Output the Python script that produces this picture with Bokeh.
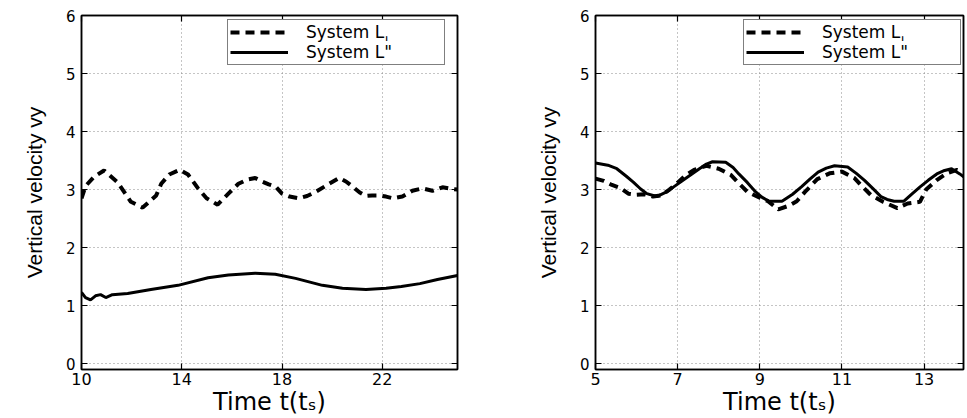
from bokeh.plotting import figure
from bokeh.layouts import row
from bokeh.models import (LinearAxis, FixedTicker, Range1d, Legend, LegendItem,
                          CustomLabelingPolicy)
from bokeh.embed import file_html
from bokeh.resources import INLINE

# ---------------- data ----------------
y_ticks = [0, 1, 2, 3, 4, 5, 6]
left_x_ticks = [10, 14, 18, 22]
right_x_ticks = [5, 7, 9, 11, 13]

legend_labels = ["System L\u02cc", "System L\""]
x_label = "Time t(t\u209b)"
y_label = "Vertical velocity vy"

# left panel, dashed curve (System L,)
left_dashed_t = [10.0, 10.16, 10.5, 10.9, 11.43, 11.97, 12.44, 12.98, 13.18, 13.5, 13.92,
                 14.25, 14.65, 14.99, 15.43, 15.86, 16.26, 16.6, 16.93, 17.2, 17.47, 17.75,
                 18.0, 18.3, 18.67, 19.0, 19.34, 19.88, 20.28, 20.55, 20.82, 21.1, 21.35,
                 21.6, 21.89, 22.15, 22.42, 22.8, 23.2, 23.6, 24.0, 24.4, 24.8, 25.0]
left_dashed_v = [2.85, 3.06, 3.22, 3.33, 3.13, 2.79, 2.69, 2.90, 3.10, 3.26, 3.34,
                 3.26, 3.02, 2.85, 2.74, 2.93, 3.10, 3.17, 3.20, 3.14, 3.09, 3.05,
                 2.93, 2.88, 2.85, 2.89, 2.96, 3.10, 3.20, 3.14, 3.05, 2.95, 2.89,
                 2.90, 2.90, 2.88, 2.85, 2.88, 2.98, 3.02, 2.98, 3.04, 3.01, 3.00]

# left panel, solid curve (System L")
left_solid_t = [10.0, 10.16, 10.36, 10.56, 10.76, 10.97, 11.23, 11.84, 12.77, 13.85, 15.05,
                15.86, 16.93, 17.73, 18.54, 19.61, 20.41, 21.35, 22.15, 22.76, 23.5, 24.2, 25.0]
left_solid_v = [1.23, 1.14, 1.10, 1.17, 1.19, 1.14, 1.19, 1.21, 1.28, 1.35, 1.48,
                1.53, 1.56, 1.54, 1.47, 1.35, 1.30, 1.28, 1.30, 1.33, 1.38, 1.45, 1.52]

# right panel, dashed curve (System L,)
right_dashed_t = [5.0, 5.2, 5.4, 5.6, 5.8, 6.0, 6.2, 6.4, 6.6, 6.8, 7.0, 7.2, 7.4, 7.7,
                  8.0, 8.3, 8.5, 8.7, 9.0, 9.2, 9.45, 9.7, 9.9, 10.1, 10.4, 10.7, 11.0,
                  11.3, 11.5, 11.7, 12.0, 12.35, 12.6, 12.9, 13.05, 13.3, 13.55, 13.8, 14.0]
right_dashed_v = [3.19, 3.15, 3.08, 3.03, 2.93, 2.91, 2.92, 2.88, 2.90, 3.00, 3.12, 3.25, 3.34, 3.41,
                  3.36, 3.25, 3.10, 2.96, 2.86, 2.80, 2.66, 2.72, 2.80, 2.96, 3.18, 3.28, 3.31,
                  3.20, 3.05, 2.91, 2.79, 2.68, 2.76, 2.79, 3.00, 3.16, 3.28, 3.34, 3.30]

# right panel, solid curve (System L")
right_solid_t = [5.0, 5.3, 5.52, 5.75, 5.92, 6.1, 6.25, 6.49, 6.73, 6.93, 7.13, 7.33, 7.53,
                 7.7, 7.85, 8.17, 8.35, 8.49, 8.7, 8.9, 9.05, 9.22, 9.54, 9.8, 10.02, 10.22,
                 10.42, 10.62, 10.82, 11.14, 11.35, 11.55, 11.75, 11.95, 12.1, 12.27, 12.51,
                 12.7, 12.91, 13.1, 13.31, 13.5, 13.67, 13.87, 14.0]
right_solid_v = [3.46, 3.42, 3.36, 3.23, 3.13, 3.01, 2.93, 2.88, 2.96, 3.06, 3.16, 3.26, 3.36,
                 3.44, 3.48, 3.47, 3.38, 3.27, 3.12, 2.96, 2.87, 2.80, 2.80, 2.92, 3.05, 3.18,
                 3.30, 3.37, 3.41, 3.39, 3.28, 3.16, 3.02, 2.88, 2.83, 2.80, 2.80,
                 2.92, 3.05, 3.16, 3.27, 3.33, 3.36, 3.27, 3.20]

H_FONT = "DejaVu Sans"
V_FONT = "Liberation Sans"

NO_LABELS = CustomLabelingPolicy(code="for (const i of Array.from(indices)) { indices.unset(i) } return indices")


def style_axis(ax, ticks, show_labels=True):
    ax.ticker = FixedTicker(ticks=ticks)
    ax.axis_line_color = "black"
    ax.axis_line_width = 1.5
    ax.major_tick_line_color = "black"
    ax.major_tick_line_width = 1.2
    ax.major_tick_in = 6
    ax.major_tick_out = 0
    ax.minor_tick_line_color = None
    ax.major_label_text_font = H_FONT
    ax.major_label_text_color = "black"
    ax.axis_label_text_color = "black"
    if not show_labels:
        ax.major_label_text_font_size = "1px"
        ax.major_label_standoff = 0
        ax.major_label_policy = NO_LABELS


def make_panel(width, mb_left, mb_right, xr, xticks, dt, dv, st, sv, leg_loc):
    p = figure(width=width, height=418, output_backend="svg", toolbar_location=None,
               x_range=Range1d(*xr), y_range=Range1d(-0.1, 6.0),
               min_border_left=mb_left, min_border_right=mb_right,
               min_border_top=15, min_border_bottom=45)
    p.background_fill_color = "white"
    p.border_fill_color = "white"
    p.outline_line_color = "black"
    p.outline_line_width = 1.5

    style_axis(p.xaxis[0], xticks)
    style_axis(p.yaxis[0], y_ticks)
    p.xaxis[0].major_label_text_font_size = "16px"
    p.xaxis[0].major_label_standoff = 3
    p.yaxis[0].major_label_text_font_size = "15px"
    p.yaxis[0].major_label_standoff = 6
    p.yaxis[0].major_label_orientation = "horizontal"

    p.xaxis[0].axis_label = x_label
    p.xaxis[0].axis_label_text_font = H_FONT
    p.xaxis[0].axis_label_text_font_size = "24px"
    p.xaxis[0].axis_label_text_font_style = "normal"
    p.xaxis[0].axis_label_standoff = 0
    p.yaxis[0].axis_label = y_label
    p.yaxis[0].axis_label_text_font = V_FONT
    p.yaxis[0].axis_label_text_font_size = "21px"
    p.yaxis[0].axis_label_text_font_style = "normal"
    p.yaxis[0].axis_label_standoff = 17

    top = LinearAxis()
    style_axis(top, xticks, show_labels=False)
    p.add_layout(top, "above")
    right = LinearAxis()
    style_axis(right, y_ticks, show_labels=False)
    p.add_layout(right, "right")

    for g in (p.xgrid[0], p.ygrid[0]):
        g.grid_line_color = "#8a8a8a"
        g.grid_line_dash = "1 3"
        g.grid_line_width = 1
    p.xgrid[0].ticker = FixedTicker(ticks=xticks)
    p.ygrid[0].ticker = FixedTicker(ticks=y_ticks)

    r1 = p.line(dt, dv, line_color="black", line_width=4, line_dash="9 6")
    r2 = p.line(st, sv, line_color="black", line_width=3)

    leg = Legend(items=[LegendItem(label=legend_labels[0], renderers=[r1]),
                        LegendItem(label=legend_labels[1], renderers=[r2])],
                 location=leg_loc)
    leg.border_line_color = "black"
    leg.border_line_width = 1.5
    leg.background_fill_color = "white"
    leg.background_fill_alpha = 1
    leg.padding = 2
    leg.spacing = 0
    leg.margin = 0
    leg.glyph_width = 58
    leg.glyph_height = 18
    leg.label_standoff = 18
    leg.label_width = 136
    leg.label_height = 18
    leg.label_text_font = H_FONT
    leg.label_text_font_size = "17px"
    leg.label_text_color = "black"
    p.add_layout(leg)
    return p


p1 = make_panel(522, 81, 65, (10, 25), left_x_ticks,
                left_dashed_t, left_dashed_v, left_solid_t, left_solid_v, (146, 304))
p2 = make_panel(445, 73, 0, (5, 13.96), right_x_ticks,
                right_dashed_t, right_dashed_v, right_solid_t, right_solid_v, (148, 304))

layout = row(p1, p2, spacing=0)
open("out.html", "w").write(file_html(layout, INLINE))
